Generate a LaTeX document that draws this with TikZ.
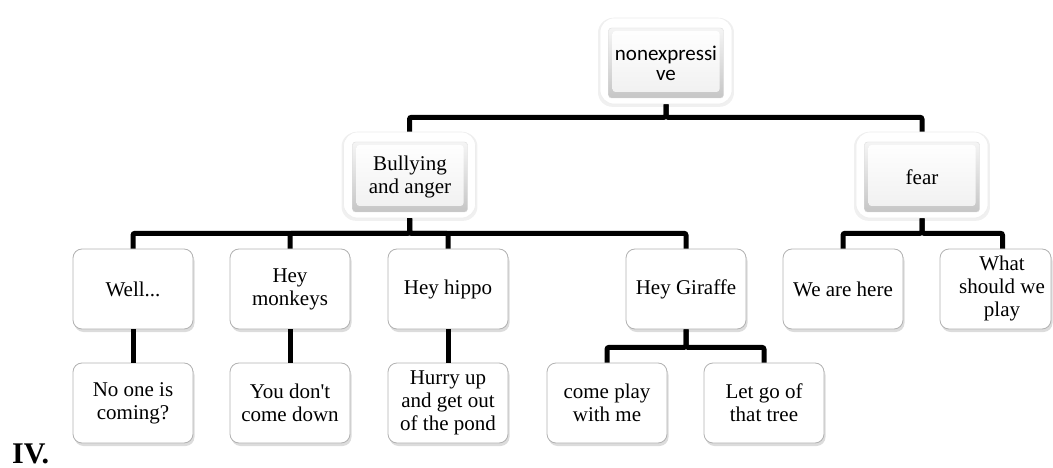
\documentclass[tikz,border=0pt]{standalone}
\usepackage{fontspec}
\setmainfont{Liberation Serif}
\newfontfamily\plainserif{Liberation Serif}
\newfontfamily\carlitofont{Carlito}
\usetikzlibrary{shadows,calc}
\begin{document}
\begin{tikzpicture}[x=1pt,y=-1pt,
  frame/.style={rounded corners=14pt, fill=white, draw=gray!14, line width=0.6pt,
    minimum width=132pt, minimum height=86pt, inner sep=0pt,
    drop shadow={opacity=0.12, shadow xshift=0pt, shadow yshift=-1.5pt, shadow scale=1.03}},
  btn/.style={rounded corners=3pt, top color=gray!8, bottom color=gray!45, draw=gray!28,
    line width=0.4pt, minimum width=115pt, minimum height=70pt, inner sep=0pt, align=center,
    font=\fontsize{21}{23}\selectfont,
    path picture={\shade[top color=white, bottom color=gray!12]
      ([shift={(4pt,-3pt)}]path picture bounding box.north west) rectangle
      ([shift={(-4pt,6pt)}]path picture bounding box.south east);}},
  lbox/.style={draw=gray!60, line width=0.8pt, rounded corners=9pt, fill=white,
    minimum width=120pt, minimum height=80pt, inner sep=2pt, align=center,
    font=\fontsize{21}{23}\selectfont,
    drop shadow={opacity=0.28, shadow xshift=1.5pt, shadow yshift=-3pt}},
  conn/.style={line width=5pt, rounded corners=2pt}]
\useasboundingbox (0,0) rectangle (1053,468);

% level 0
\node[frame] (topf) at (666,61) {};
\node[btn, font=\carlitofont\fontsize{21}{20}\selectfont] (top) at (666,63) {nonexpressi\\ve};

% level 1
\node[frame] (bulf) at (409.5,175) {};
\node[btn] (bul) at (410,177) {Bullying\\and anger};
\node[frame] (fearf) at (922,175) {};
\node[btn] (fear) at (922,177) {fear};

% level 2
\node[lbox] (well) at (133,289) {Well...};
\node[lbox] (monk) at (290,289) {Hey\\monkeys};
\node[lbox] (hippo) at (448,289) {Hey hippo};
\node[lbox] (gir) at (686,289) {Hey Giraffe};
\node[lbox] (we) at (843,289) {We are here};
\node[lbox, minimum width=111pt] (wsw) at (995.5,289)
  {\begin{tabular}{@{\hspace{13pt}}c@{}}What\\should we\\play\end{tabular}};

% level 3
\node[lbox] (none) at (133,403) {No one is\\coming?};
\node[lbox] (dont) at (290,403) {{\plainserif You don't}\\come down};
\node[lbox] (hurry) at (448,403) {Hurry up\\and get out\\of the pond};
\node[lbox] (come) at (607,403) {come play\\with me};
\node[lbox] (letgo) at (764,403) {Let go of\\that tree};

% connectors
\draw[conn] (topf.south) -- ++(0,13) -| (bulf.north);
\draw[conn] (topf.south) -- ++(0,13) -| (fearf.north);

\draw[conn] (bulf.south) -- ++(0,15) -| (well.north);
\draw[conn] (bulf.south) -- ++(0,15) -| (monk.north);
\draw[conn] (bulf.south) -- ++(0,15) -| (hippo.north);
\draw[conn] (bulf.south) -- ++(0,15) -| (gir.north);

\draw[conn] (fearf.south) -- ++(0,15) -| (we.north);
\draw[conn] (fearf.south) -- ++(0,15) -| ($(wsw.north)+(7,0)$);

\draw[conn] (well.south) -- (none.north);
\draw[conn] (monk.south) -- (dont.north);
\draw[conn] (hippo.south) -- (hurry.north);
\draw[conn] (gir.south) -- ++(0,18) -| (come.north);
\draw[conn] (gir.south) -- ++(0,18) -| (letgo.north);

\node[anchor=base west, inner sep=0pt, font=\bfseries\fontsize{30}{30}\selectfont] (iv) at (12,463) {IV.};
\end{tikzpicture}
\end{document}
